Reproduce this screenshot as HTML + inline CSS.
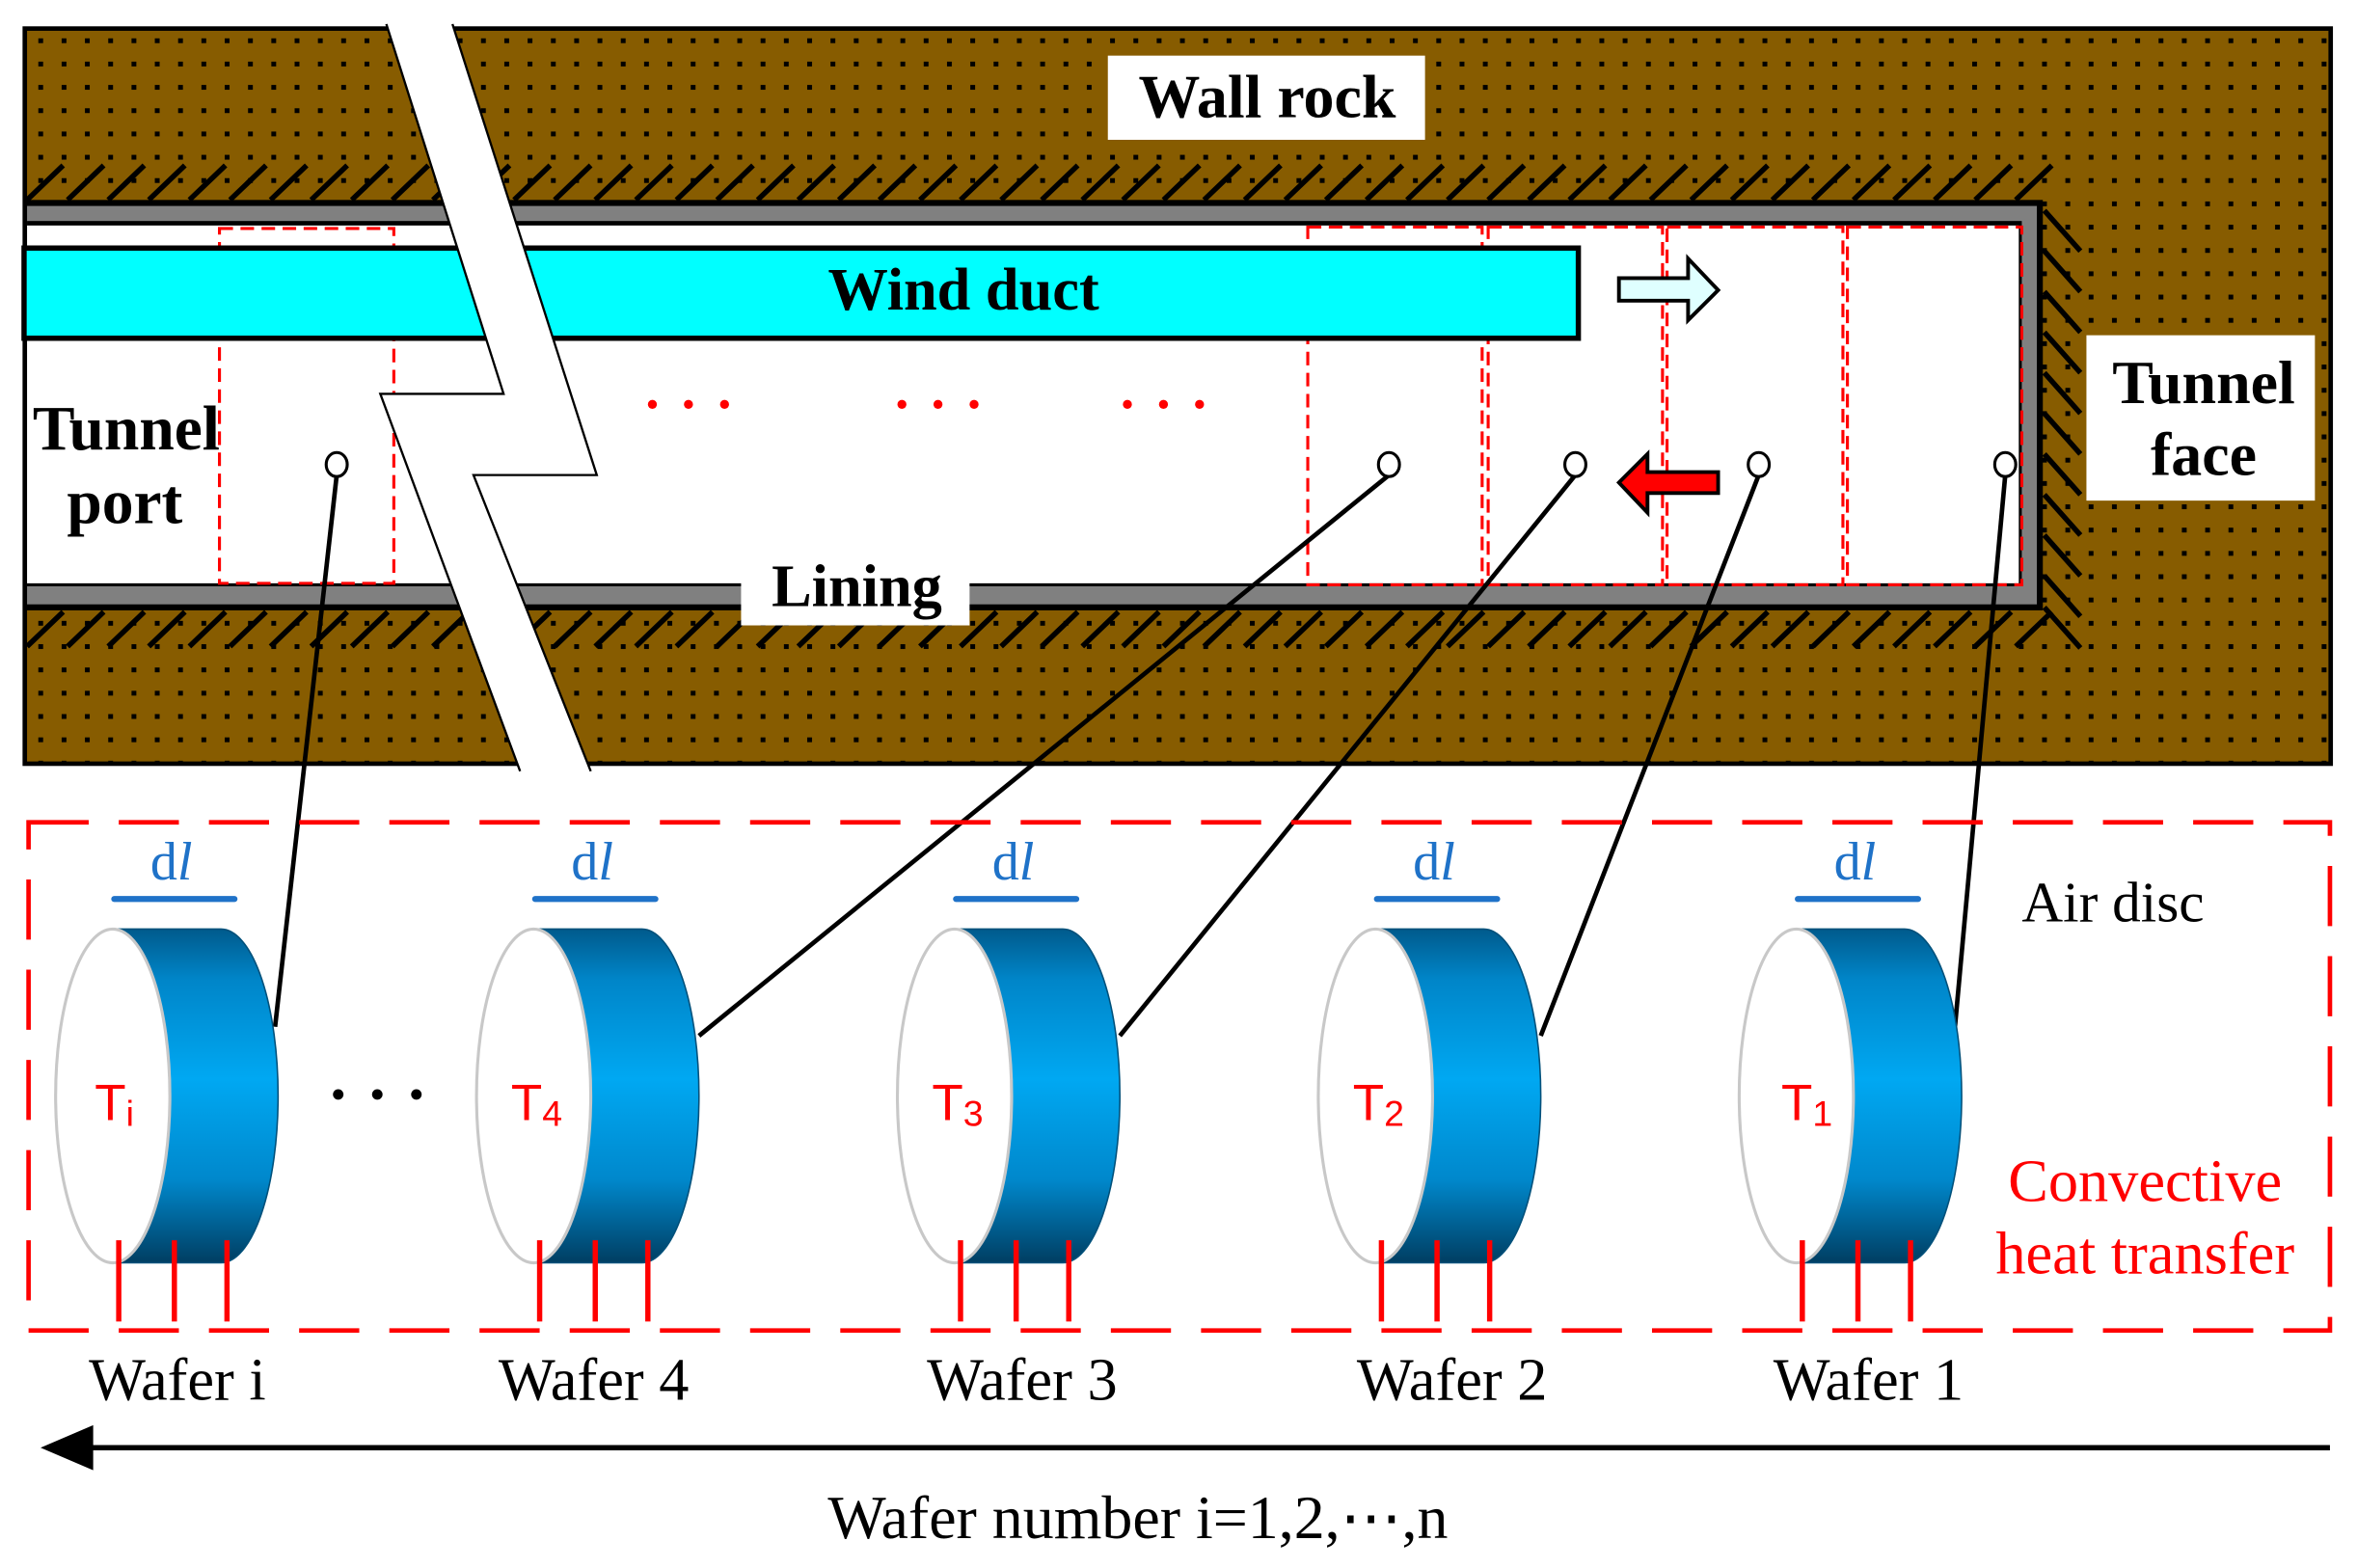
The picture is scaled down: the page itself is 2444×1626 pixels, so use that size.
<!DOCTYPE html>
<html><head><meta charset="utf-8"><style>
html,body{margin:0;padding:0;background:#fff;}
svg{display:block;}
</style></head><body>
<svg width="2444" height="1626" viewBox="0 0 1568 1043" preserveAspectRatio="none" xmlns="http://www.w3.org/2000/svg">
<defs>
<pattern id="dots" patternUnits="userSpaceOnUse" x="4" y="4" width="15.5" height="15.5">
<rect x="6" y="6" width="3.2" height="3.2" fill="#000"/>
</pattern>
<linearGradient id="band" x1="0" y1="0" x2="0" y2="1">
<stop offset="0" stop-color="#005a8c"/>
<stop offset="0.15" stop-color="#0085c8"/>
<stop offset="0.45" stop-color="#00a8f2"/>
<stop offset="0.75" stop-color="#0088cc"/>
<stop offset="1" stop-color="#003e62"/>
</linearGradient>
</defs>

<!-- rock -->
<rect x="16.5" y="19" width="1534" height="489" fill="#875c00" stroke="#000" stroke-width="3"/>
<rect x="18" y="20.5" width="1531" height="486" fill="url(#dots)"/>

<!-- hatches -->
<g stroke="#000" stroke-width="3.5">
<path id="ht" d="M18 133 l24 -23 M45 133 l24 -23 M72 133 l24 -23 M99 133 l24 -23 M126 133 l24 -23 M153 133 l24 -23 M180 133 l24 -23 M207 133 l24 -23 M234 133 l24 -23 M261 133 l24 -23 M288 133 l24 -23 M315 133 l24 -23 M342 133 l24 -23 M369 133 l24 -23 M396 133 l24 -23 M423 133 l24 -23 M450 133 l24 -23 M477 133 l24 -23 M504 133 l24 -23 M531 133 l24 -23 M558 133 l24 -23 M585 133 l24 -23 M612 133 l24 -23 M639 133 l24 -23 M666 133 l24 -23 M693 133 l24 -23 M720 133 l24 -23 M747 133 l24 -23 M774 133 l24 -23 M801 133 l24 -23 M828 133 l24 -23 M855 133 l24 -23 M882 133 l24 -23 M909 133 l24 -23 M936 133 l24 -23 M963 133 l24 -23 M990 133 l24 -23 M1017 133 l24 -23 M1044 133 l24 -23 M1071 133 l24 -23 M1098 133 l24 -23 M1125 133 l24 -23 M1152 133 l24 -23 M1179 133 l24 -23 M1206 133 l24 -23 M1233 133 l24 -23 M1260 133 l24 -23 M1287 133 l24 -23 M1314 133 l24 -23 M1341 133 l24 -23"/>
<use href="#ht" transform="translate(0,297)"/>
<path d="M1360 140 l24 27 M1360 167 l24 27 M1360 194 l24 27 M1360 221 l24 27 M1360 248 l24 27 M1360 275 l24 27 M1360 302 l24 27 M1360 329 l24 27 M1360 356 l24 27 M1360 383 l24 27 M1360 404 l24 27"/>
</g>

<!-- tunnel -->
<rect x="16" y="133" width="1343" height="273" fill="#000"/>
<rect x="18" y="137" width="1337" height="265" fill="#808080"/>
<rect x="18" y="147" width="1327" height="243" fill="#000"/>
<rect x="18" y="150" width="1325" height="238" fill="#fff"/>

<!-- red dashed boxes -->
<g fill="none" stroke="#f00" stroke-width="2" stroke-dasharray="9,5">
<rect x="146" y="152" width="116" height="236"/>
<rect x="870" y="151" width="116" height="238"/>
<rect x="990" y="151" width="116" height="238"/>
<rect x="1109" y="151" width="117" height="238"/>
<rect x="1229" y="151" width="116" height="238"/>
</g>

<!-- wind duct -->
<rect x="16" y="165" width="1034" height="60" fill="#0ff" stroke="#000" stroke-width="3.5"/>
<text x="641" y="206" font-family="Liberation Serif" font-weight="bold" font-size="40" text-anchor="middle">Wind duct</text>

<!-- arrows -->
<path d="M1077 185 L1123 185 L1123 172 L1143 193 L1123 213 L1123 200 L1077 200 Z" fill="#dfffff" stroke="#000" stroke-width="2.5"/>
<path d="M1077 321 L1096 302 L1096 314 L1143 314 L1143 328 L1096 328 L1096 341 Z" fill="#f00" stroke="#000" stroke-width="2.5"/>

<!-- red dots -->
<g fill="#f00">
<circle cx="434" cy="269" r="3"/><circle cx="458" cy="269" r="3"/><circle cx="482" cy="269" r="3"/>
<circle cx="600" cy="269" r="3"/><circle cx="624" cy="269" r="3"/><circle cx="648" cy="269" r="3"/>
<circle cx="750" cy="269" r="3"/><circle cx="774" cy="269" r="3"/><circle cx="798" cy="269" r="3"/>
</g>

<!-- break -->
<polygon points="257,16 301,16 397,316 315,316 393,513 346,513 253,262 335,262" fill="#fff"/>
<polyline points="257,16 335,262 253,262 346,513" fill="none" stroke="#000" stroke-width="1.5"/>
<polyline points="301,16 397,316 315,316 393,513" fill="none" stroke="#000" stroke-width="1.5"/>

<!-- labels -->
<rect x="737" y="37" width="211" height="56" fill="#fff"/>
<text x="843" y="78" font-family="Liberation Serif" font-weight="bold" font-size="41" text-anchor="middle">Wall rock</text>
<rect x="1388" y="223" width="152" height="110" fill="#fff"/>
<text x="1466" y="268" font-family="Liberation Serif" font-weight="bold" font-size="41" text-anchor="middle">Tunnel</text>
<text x="1466" y="316" font-family="Liberation Serif" font-weight="bold" font-size="41" text-anchor="middle">face</text>
<text x="84" y="299" font-family="Liberation Serif" font-weight="bold" font-size="42" text-anchor="middle">Tunnel</text>
<text x="83" y="348" font-family="Liberation Serif" font-weight="bold" font-size="42" text-anchor="middle">port</text>
<rect x="493" y="368" width="152" height="48" fill="#fff"/>
<text x="570" y="403" font-family="Liberation Serif" font-weight="bold" font-size="40" text-anchor="middle">Lining</text>

<!-- connectors -->
<g stroke="#000" stroke-width="3" fill="none">
<line x1="224" y1="316" x2="183" y2="683"/>
<line x1="924" y1="316" x2="465" y2="689"/>
<line x1="1048" y1="316" x2="745" y2="689"/>
<line x1="1170" y1="316" x2="1025" y2="689"/>
<line x1="1334" y1="316" x2="1300" y2="689"/>
</g>
<g fill="#fff" stroke="#000" stroke-width="2">
<ellipse cx="224" cy="309" rx="7" ry="8"/>
<ellipse cx="924" cy="309" rx="7" ry="8"/>
<ellipse cx="1048" cy="309" rx="7" ry="8"/>
<ellipse cx="1170" cy="309" rx="7" ry="8"/>
<ellipse cx="1334" cy="309" rx="7" ry="8"/>
</g>

<!-- air disc dashed box -->
<rect x="19" y="547" width="1531" height="338" fill="none" stroke="#f00" stroke-width="3" stroke-dasharray="40,20"/>

<!-- wafers -->
<g id="w">
<path d="M75 618 L147 618 A38 111 0 0 1 147 840 L75 840 A38 111 0 0 0 75 618 Z" fill="url(#band)" stroke="#00507a" stroke-width="1"/>
<ellipse cx="75" cy="729" rx="38" ry="111" fill="#fff" stroke="#c8c8c8" stroke-width="2"/>
<line x1="76" y1="598" x2="156" y2="598" stroke="#1f72c8" stroke-width="4" stroke-linecap="round"/>
<text x="114" y="585" font-family="Liberation Serif" font-size="36" fill="#1f72c8" text-anchor="middle">d<tspan font-style="italic">l</tspan></text>
<g stroke="#f00" stroke-width="3.5"><line x1="79" y1="825" x2="79" y2="879"/><line x1="116" y1="825" x2="116" y2="879"/><line x1="151" y1="825" x2="151" y2="879"/></g>
</g>
<use href="#w" transform="translate(280,0)"/>
<use href="#w" transform="translate(560,0)"/>
<use href="#w" transform="translate(840,0)"/>
<use href="#w" transform="translate(1120,0)"/>

<g font-family="Liberation Sans" font-size="34" fill="#f00">
<text x="63" y="745">T<tspan font-size="24" dy="4">i</tspan></text>
<text x="340" y="745">T<tspan font-size="24" dy="4">4</tspan></text>
<text x="620" y="745">T<tspan font-size="24" dy="4">3</tspan></text>
<text x="900" y="745">T<tspan font-size="24" dy="4">2</tspan></text>
<text x="1185" y="745">T<tspan font-size="24" dy="4">1</tspan></text>
</g>
<g fill="#000"><circle cx="225" cy="728" r="3.5"/><circle cx="251" cy="728" r="3.5"/><circle cx="277" cy="728" r="3.5"/></g>

<g font-family="Liberation Serif" font-size="40" fill="#000" text-anchor="middle">
<text x="118" y="931">Wafer i</text>
<text x="395" y="931">Wafer 4</text>
<text x="680" y="931">Wafer 3</text>
<text x="966" y="931">Wafer 2</text>
<text x="1243" y="931">Wafer 1</text>
<text x="757" y="1023" font-size="41">Wafer number  i=1,2,⋯,n</text>
</g>
<text x="1345" y="613" font-family="Liberation Serif" font-size="38" fill="#000">Air disc</text>
<g font-family="Liberation Serif" font-size="40" fill="#f00" text-anchor="middle">
<text x="1427" y="799">Convective</text>
<text x="1427" y="847">heat transfer</text>
</g>

<!-- bottom arrow -->
<line x1="50" y1="963" x2="1550" y2="963" stroke="#000" stroke-width="3.5"/>
<polygon points="27,963 62,948 62,978" fill="#000"/>
</svg>
</body></html>
